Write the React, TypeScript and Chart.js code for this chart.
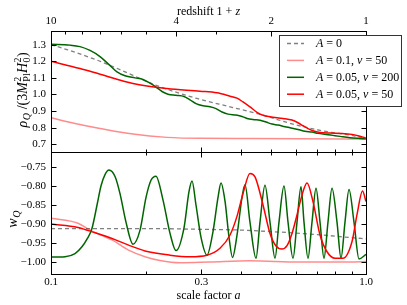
import React, { useEffect, useRef } from 'react';
import { Chart, registerables } from 'chart.js';
Chart.register(...registerables);

const W = 407;
const H = 305;
const SERIF = "'Liberation Serif', 'DejaVu Serif', serif";

// ---------- axis ticks ----------
const aTicks = [0.1, 0.2, 0.3, 0.4, 0.5, 0.6, 0.7, 0.8, 0.9, 1.0];
const aLabels: Record<string, string> = { '0.1': '0.1', '0.3': '0.3', '1': '1.0' };
const zTicks = [10, 9, 8, 7, 6, 5, 4, 3, 2, 1]; // 1+z
const zLabels = [10, 4, 2, 1];
const rhoTicks = [0.7, 0.8, 0.9, 1.0, 1.1, 1.2, 1.3];
const wTicks = [-1.0, -0.95, -0.9, -0.85, -0.8, -0.75];

// ---------- top panel: rho_Q / (3 M_Pl^2 H_0^2) ----------
const aRhoA0 = [0.1, 0.1124, 0.1431, 0.1821, 0.2062, 0.2268, 0.2907, 0.3701, 0.4711, 0.5655, 0.725, 0.9228, 1.0];
const rhoA0 = [1.3, 1.27, 1.2, 1.115, 1.07, 1.04, 0.976, 0.926, 0.876, 0.83, 0.782, 0.75, 0.735];

const aRhoA01 = [0.1, 0.1192, 0.1431, 0.1821, 0.2335, 0.2972, 0.4282, 0.6173, 1.0];
const rhoA01 = [0.86, 0.826, 0.796, 0.762, 0.742, 0.736, 0.735, 0.734, 0.732];

const aRhoN200 = [0.1, 0.1149, 0.1236, 0.133, 0.1431, 0.1528, 0.162, 0.1718, 0.1848, 0.1959, 0.2062, 0.2154, 0.2251, 0.2351, 0.2494, 0.2644, 0.2762, 0.2886, 0.3038, 0.3197, 0.3341, 0.349, 0.3647, 0.3868, 0.404, 0.419, 0.4378, 0.4608, 0.4815, 0.503, 0.5256, 0.5533, 0.5738, 0.6083, 0.6403, 0.6739, 0.7041, 0.7466, 0.7857, 0.8272, 0.8897, 0.943, 1.0];
const rhoN200 = [1.302, 1.297, 1.288, 1.265, 1.228, 1.18, 1.136, 1.113, 1.1, 1.09, 1.068, 1.045, 1.018, 1.002, 0.995, 0.988, 0.968, 0.945, 0.932, 0.926, 0.915, 0.895, 0.882, 0.876, 0.868, 0.856, 0.849, 0.845, 0.834, 0.822, 0.816, 0.806, 0.8, 0.79, 0.779, 0.774, 0.766, 0.76, 0.754, 0.748, 0.74, 0.736, 0.733];

const aRhoN50 = [0.1, 0.1236, 0.1431, 0.1821, 0.2335, 0.2972, 0.3365, 0.3701, 0.3894, 0.4069, 0.4282, 0.4508, 0.4711, 0.4957, 0.5452, 0.5822, 0.6083, 0.631, 0.6544, 0.6788, 0.7145, 0.7688, 0.8391, 0.903, 0.943, 0.9715, 1.0];
const rhoN50 = [1.2, 1.156, 1.122, 1.066, 1.036, 1.02, 1.01, 0.99, 0.978, 0.955, 0.925, 0.893, 0.875, 0.866, 0.856, 0.846, 0.83, 0.812, 0.795, 0.782, 0.772, 0.768, 0.766, 0.76, 0.752, 0.745, 0.737];

// ---------- bottom panel: w_Q ----------
const aWA0 = [0.1, 0.2, 0.3, 0.4, 0.5, 0.6, 0.7, 0.8, 0.9, 1.0];
const wA0 = [-0.912, -0.912, -0.914, -0.916, -0.92, -0.924, -0.928, -0.932, -0.936, -0.939];

const aWA01 = [0.1, 0.1218, 0.133, 0.1562, 0.1756, 0.1988, 0.2219, 0.2568, 0.3197, 0.4282, 0.6173, 0.8897, 1.0];
const wA01 = [-0.885, -0.898, -0.916, -0.942, -0.968, -0.986, -0.996, -1.002, -1.0, -0.997, -1.0, -1.0, -0.999];

const aWN200 = [0.1, 0.1108, 0.1192, 0.1254, 0.1301, 0.1349, 0.14, 0.1441, 0.1484, 0.1528, 0.1597, 0.1656, 0.173, 0.1821, 0.1917, 0.2003, 0.2077, 0.2154, 0.2268, 0.2386, 0.2494, 0.2644, 0.2742, 0.2803, 0.2886, 0.2994, 0.3128, 0.3268, 0.339, 0.3465, 0.3568, 0.3674, 0.3769, 0.3894, 0.404, 0.4129, 0.4282, 0.4475, 0.4608, 0.4779, 0.4957, 0.5142, 0.5294, 0.5491, 0.5655, 0.5866, 0.6039, 0.6218, 0.6356, 0.6544, 0.6739, 0.6939, 0.7145, 0.7356, 0.7574, 0.78, 0.809, 0.833, 0.8577, 0.8832, 0.916, 0.95, 1.0];
const wN200 = [-0.987, -0.986, -0.978, -0.96, -0.94, -0.912, -0.85, -0.8, -0.77, -0.758, -0.775, -0.82, -0.895, -0.953, -0.916, -0.83, -0.785, -0.774, -0.837, -0.924, -0.97, -0.91, -0.815, -0.787, -0.85, -0.935, -0.982, -0.92, -0.83, -0.792, -0.84, -0.935, -0.988, -0.93, -0.83, -0.797, -0.895, -0.99, -0.895, -0.798, -0.895, -0.99, -0.895, -0.8, -0.895, -0.99, -0.895, -0.802, -0.895, -0.99, -0.895, -0.806, -0.895, -0.99, -0.895, -0.806, -0.895, -0.99, -0.895, -0.809, -0.895, -0.992, -0.98];

const aWN50 = [0.1, 0.1218, 0.138, 0.1562, 0.1756, 0.1988, 0.2386, 0.2762, 0.3128, 0.344, 0.3701, 0.3894, 0.4069, 0.4282, 0.4443, 0.4711, 0.4957, 0.518, 0.5412, 0.5614, 0.5822, 0.6039, 0.6264, 0.6497, 0.6788, 0.7145, 0.752, 0.7973, 0.8452, 0.903, 0.936, 0.975, 1.0];
const wN50 = [-0.9, -0.909, -0.923, -0.938, -0.955, -0.971, -0.982, -0.986, -0.982, -0.964, -0.929, -0.88, -0.82, -0.767, -0.776, -0.85, -0.925, -0.958, -0.966, -0.957, -0.925, -0.876, -0.824, -0.792, -0.841, -0.929, -0.973, -0.99, -0.99, -0.946, -0.876, -0.813, -0.841];

// ---------- styles ----------
const C_A0 = '#808080';
const C_A01 = 'rgba(255,0,0,0.45)';
const C_N200 = '#006400';
const C_N50 = '#ff0000';

const zip = (xs: number[], ys: number[]) => xs.map((x, i) => ({ x, y: ys[i] }));

type Seg = { t: string; it?: boolean; sub?: string; sup?: string; subIt?: boolean };
const fnt = (size: number, it?: boolean) => `${it ? 'italic ' : ''}${size}px ${SERIF}`;

function drawMath(ctx: CanvasRenderingContext2D, segs: Seg[], cx: number, cy: number, size: number, rot = 0, align: 'center' | 'left' = 'center') {
  const small = Math.round(size * 0.72);
  const items = segs.map((s) => {
    ctx.font = fnt(size, s.it);
    const w = ctx.measureText(s.t).width;
    ctx.font = fnt(small, s.subIt);
    const ws = s.sub ? ctx.measureText(s.sub).width : 0;
    ctx.font = fnt(small, false);
    const wp = s.sup ? ctx.measureText(s.sup).width : 0;
    const extra = s.sub || s.sup ? Math.max(ws, wp) + 0.8 : 0;
    return { s, w, extra };
  });
  const total = items.reduce((acc, it) => acc + it.w + it.extra, 0);
  ctx.save();
  ctx.translate(cx, cy);
  ctx.rotate(rot);
  ctx.fillStyle = '#000';
  ctx.textAlign = 'left';
  ctx.textBaseline = 'alphabetic';
  let x = align === 'center' ? -total / 2 : 0;
  const base = size * 0.33;
  for (const it of items) {
    ctx.font = fnt(size, it.s.it);
    ctx.fillText(it.s.t, x, base);
    x += it.w;
    if (it.s.sup) {
      ctx.font = fnt(small, false);
      ctx.fillText(it.s.sup, x + 0.5, base - size * 0.42);
    }
    if (it.s.sub) {
      ctx.font = fnt(small, it.s.subIt);
      ctx.fillText(it.s.sub, x + 0.5, base + size * 0.25);
    }
    x += it.extra;
  }
  ctx.restore();
}

const isLabeledA = (v: number) => [0.1, 0.3, 1].some((m) => Math.abs(m - v) < 1e-6);

const frameTicks = {
  id: 'frameTicks',
  afterDatasetsDraw(chart: any, _args: any, opts: any) {
    const { ctx, chartArea: ca } = chart;
    const L = Math.round(ca.left) + 0.5;
    const R = Math.round(ca.right) + 0.5;
    const T = Math.round(ca.top) + 0.5;
    const B = Math.round(ca.bottom) + 0.5;
    ctx.save();
    ctx.strokeStyle = '#000';
    ctx.lineWidth = 1;
    const line = (x1: number, y1: number, x2: number, y2: number) => {
      ctx.beginPath();
      ctx.moveTo(x1, y1);
      ctx.lineTo(x2, y2);
      ctx.stroke();
    };
    ctx.strokeRect(L, T, R - L, B - T);
    const ys = chart.scales.y;
    ys.ticks.forEach((t: any) => {
      const py = Math.round(ys.getPixelForValue(t.value)) + 0.5;
      line(L, py, L + 5, py);
      line(R, py, R - 5, py);
    });
    const xs = chart.scales.x;
    xs.ticks.forEach((t: any) => {
      const px = Math.round(xs.getPixelForValue(t.value)) + 0.5;
      const len = isLabeledA(t.value) ? 5 : 3;
      line(px, B, px, B - len);
      if (!opts.topFromZ) line(px, T, px, T + len);
    });
    if (opts.topFromZ) {
      const zt = chart.scales.xTop;
      zt.ticks.forEach((t: any) => {
        const px = Math.round(zt.getPixelForValue(t.value)) + 0.5;
        const z = Math.round(1 / t.value);
        const len = zLabels.includes(z) ? 5 : 3;
        line(px, T, px, T + len);
      });
    }
    ctx.restore();
  },
  afterDraw(chart: any, _args: any, opts: any) {
    const ctx = chart.ctx as CanvasRenderingContext2D;
    if (opts.panel === 'top') {
      drawMath(ctx, [{ t: 'redshift 1' }, { t: ' + ' }, { t: 'z', it: true }], 208.5, 11, 12);
      drawMath(
        ctx,
        [
          { t: 'ρ', it: true, sub: 'Q', subIt: true },
          { t: ' /(3' },
          { t: 'M', it: true, sub: 'Pl', sup: '2' },
          { t: 'H', it: true, sub: '0', sup: '2' },
          { t: ')' },
        ],
        22,
        90,
        14,
        -Math.PI / 2,
      );
      // legend
      const bx = 279, by = 35, bw = 122, bh = 71;
      ctx.save();
      ctx.fillStyle = '#fff';
      ctx.fillRect(bx, by, bw, bh);
      ctx.strokeStyle = '#333';
      ctx.lineWidth = 1;
      ctx.strokeRect(bx + 0.5, by + 0.5, bw, bh);
      const rows: { color: string; dash: number[]; width: number; segs: Seg[] }[] = [
        { color: C_A0, dash: [4, 3], width: 1.3, segs: [{ t: 'A', it: true }, { t: ' = 0' }] },
        { color: C_A01, dash: [], width: 1.5, segs: [{ t: 'A', it: true }, { t: ' = 0.1, ' }, { t: 'ν', it: true }, { t: ' = 50' }] },
        { color: C_N200, dash: [], width: 1.5, segs: [{ t: 'A', it: true }, { t: ' = 0.05, ' }, { t: 'ν', it: true }, { t: ' = 200' }] },
        { color: C_N50, dash: [], width: 1.5, segs: [{ t: 'A', it: true }, { t: ' = 0.05, ' }, { t: 'ν', it: true }, { t: ' = 50' }] },
      ];
      rows.forEach((r, i) => {
        const yy = 43.5 + i * 16.9;
        ctx.strokeStyle = r.color;
        ctx.lineWidth = r.width;
        ctx.setLineDash(r.dash);
        ctx.beginPath();
        ctx.moveTo(287, yy);
        ctx.lineTo(304, yy);
        ctx.stroke();
        ctx.setLineDash([]);
        drawMath(ctx, r.segs, 316, yy, 12, 0, 'left');
      });
      ctx.restore();
    } else {
      drawMath(ctx, [{ t: 'scale factor ' }, { t: 'a', it: true }], 208.5, 295, 12);
      drawMath(ctx, [{ t: 'w', it: true, sub: 'Q', subIt: true }], 12, 219, 14, -Math.PI / 2);
    }
  },
};

const tickFont = { family: SERIF, size: 11 };

function lineDs(label: string, xs: number[], ys: number[], color: string, width: number, dash: number[] = []) {
  return {
    label,
    data: zip(xs, ys),
    borderColor: color,
    backgroundColor: color,
    borderWidth: width,
    borderDash: dash,
    pointRadius: 0,
    fill: false,
    cubicInterpolationMode: 'monotone' as const,
  };
}

export default function App() {
  const topRef = useRef<HTMLCanvasElement>(null);
  const botRef = useRef<HTMLCanvasElement>(null);

  useEffect(() => {
    const common: any = {
      responsive: false,
      animation: false,
      devicePixelRatio: 1,
      events: [],
    };
    const top = new Chart(topRef.current!, {
      type: 'line',
      data: {
        datasets: [
          lineDs('A=0.05, nu=50', aRhoN50, rhoN50, C_N50, 1.5),
          lineDs('A=0.05, nu=200', aRhoN200, rhoN200, C_N200, 1.5),
          lineDs('A=0.1, nu=50', aRhoA01, rhoA01, C_A01, 1.5),
          lineDs('A=0', aRhoA0, rhoA0, C_A0, 1.3, [4, 3]),
        ],
      },
      options: {
        ...common,
        layout: { padding: { left: 0, right: 41, top: 0, bottom: 153 } },
        plugins: {
          legend: { display: false },
          tooltip: { enabled: false },
          frameTicks: { panel: 'top', topFromZ: true },
        } as any,
        scales: {
          x: {
            type: 'logarithmic',
            position: 'bottom',
            min: 0.1,
            max: 1,
            grid: { display: false, drawTicks: false },
            border: { display: false },
            ticks: { display: false },
            afterBuildTicks: (s: any) => {
              s.ticks = aTicks.map((v) => ({ value: v }));
            },
            afterFit: (s: any) => {
              s.height = 0;
            },
          },
          xTop: {
            type: 'logarithmic',
            axis: 'x',
            position: 'top',
            min: 0.1,
            max: 1,
            grid: { display: false, drawTicks: false },
            border: { display: false },
            ticks: {
              font: tickFont,
              color: '#000',
              autoSkip: false,
              maxRotation: 0,
              padding: 3,
              callback: (v: any) => {
                const z = Math.round(1 / Number(v));
                return zLabels.includes(z) ? String(z) : '';
              },
            },
            afterBuildTicks: (s: any) => {
              s.ticks = zTicks.map((z) => ({ value: 1 / z }));
            },
            afterFit: (s: any) => {
              s.height = 31;
            },
          },
          y: {
            type: 'linear',
            min: 0.654,
            max: 1.382,
            grid: { display: false, drawTicks: false },
            border: { display: false },
            ticks: {
              font: tickFont,
              color: '#000',
              padding: 5,
              callback: (v: any) => Number(v).toFixed(1),
            },
            afterBuildTicks: (s: any) => {
              s.ticks = rhoTicks.map((v) => ({ value: v }));
            },
            afterFit: (s: any) => {
              s.width = 51;
            },
          },
        } as any,
      },
      plugins: [frameTicks as any],
    });

    const bot = new Chart(botRef.current!, {
      type: 'line',
      data: {
        datasets: [
          lineDs('A=0.05, nu=50', aWN50, wN50, C_N50, 1.5),
          lineDs('A=0.05, nu=200', aWN200, wN200, C_N200, 1.5),
          lineDs('A=0.1, nu=50', aWA01, wA01, C_A01, 1.5),
          lineDs('A=0', aWA0, wA0, C_A0, 1.3, [4, 3]),
        ],
      },
      options: {
        ...common,
        layout: { padding: { left: 0, right: 41, top: 152, bottom: 0 } },
        plugins: {
          legend: { display: false },
          tooltip: { enabled: false },
          frameTicks: { panel: 'bottom', topFromZ: false },
        } as any,
        scales: {
          x: {
            type: 'logarithmic',
            position: 'bottom',
            min: 0.1,
            max: 1,
            grid: { display: false, drawTicks: false },
            border: { display: false },
            ticks: {
              font: tickFont,
              color: '#000',
              autoSkip: false,
              maxRotation: 0,
              padding: 2,
              callback: (v: any) => aLabels[String(Number(v))] ?? '',
            },
            afterBuildTicks: (s: any) => {
              s.ticks = aTicks.map((v) => ({ value: v }));
            },
            afterFit: (s: any) => {
              s.height = 31;
            },
          },
          y: {
            type: 'linear',
            min: -1.0316,
            max: -0.7105,
            grid: { display: false, drawTicks: false },
            border: { display: false },
            ticks: {
              font: tickFont,
              color: '#000',
              padding: 5,
              callback: (v: any) => (Number(v) < 0 ? '\u2212' : '') + Math.abs(Number(v)).toFixed(2),
            },
            afterBuildTicks: (s: any) => {
              s.ticks = wTicks.map((v) => ({ value: v }));
            },
            afterFit: (s: any) => {
              s.width = 51;
            },
          },
        } as any,
      },
      plugins: [frameTicks as any],
    });

    return () => {
      top.destroy();
      bot.destroy();
    };
  }, []);

  return (
    <div style={{ position: 'fixed', left: 0, top: 0, width: W, height: H, background: '#fff' }}>
      <canvas ref={topRef} width={W} height={H} style={{ position: 'absolute', left: 0, top: 0, width: W, height: H }} />
      <canvas ref={botRef} width={W} height={H} style={{ position: 'absolute', left: 0, top: 0, width: W, height: H }} />
    </div>
  );
}
